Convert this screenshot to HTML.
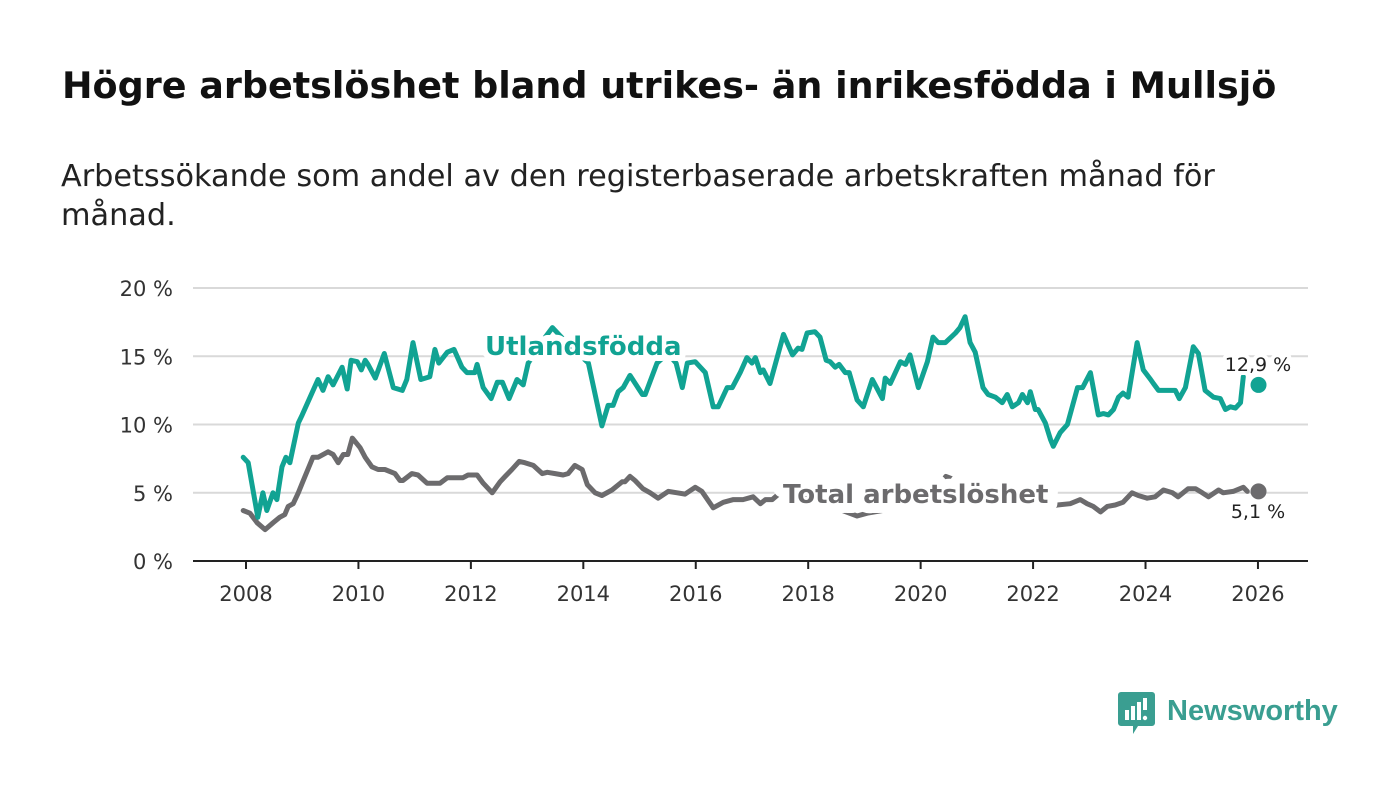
<!DOCTYPE html>
<html><head><meta charset="utf-8"><style>
body{margin:0;background:#fff;width:1400px;height:794px;overflow:hidden;font-family:"Liberation Sans",sans-serif;}
#title{position:absolute;left:62px;top:64px;font-family:"DejaVu Sans",sans-serif;font-size:36.5px;font-weight:bold;color:#111;margin:0;white-space:nowrap;}
#sub{position:absolute;left:61px;top:157px;font-family:"DejaVu Sans",sans-serif;font-size:30.3px;color:#222;line-height:39px;width:1200px;margin:0;}
svg{position:absolute;left:0;top:0;}
</style></head><body>
<h1 id="title">Högre arbetslöshet bland utrikes- än inrikesfödda i Mullsjö</h1>
<p id="sub">Arbetssökande som andel av den registerbaserade arbetskraften månad för månad.</p>
<svg id="chart" width="1400" height="794"></svg>
<script>
const yTicks=[0,5,10,15,20];
const xTicks=[2008,2010,2012,2014,2016,2018,2020,2022,2024,2026];
const foreignDates=[2007.95,2008.04,2008.21,2008.30,2008.37,2008.48,2008.55,2008.64,2008.71,2008.78,2008.93,2009.00,2009.14,2009.28,2009.37,2009.46,2009.55,2009.71,2009.80,2009.87,2009.98,2010.05,2010.12,2010.17,2010.30,2010.46,2010.62,2010.78,2010.86,2010.97,2011.11,2011.27,2011.36,2011.43,2011.58,2011.70,2011.84,2011.93,2012.07,2012.11,2012.22,2012.36,2012.47,2012.56,2012.68,2012.82,2012.93,2013.02,2013.25,2013.45,2013.7,2014.09,2014.33,2014.44,2014.53,2014.62,2014.71,2014.83,2015.05,2015.10,2015.31,2015.5,2015.65,2015.76,2015.85,2015.99,2016.17,2016.31,2016.40,2016.56,2016.65,2016.79,2016.91,2017.00,2017.06,2017.15,2017.20,2017.32,2017.56,2017.72,2017.82,2017.89,2017.98,2018.12,2018.21,2018.32,2018.39,2018.48,2018.55,2018.66,2018.73,2018.87,2018.98,2019.14,2019.32,2019.37,2019.46,2019.64,2019.73,2019.81,2019.96,2020.12,2020.22,2020.31,2020.44,2020.62,2020.70,2020.79,2020.88,2020.97,2021.11,2021.20,2021.33,2021.45,2021.54,2021.63,2021.74,2021.81,2021.90,2021.95,2022.04,2022.09,2022.22,2022.31,2022.36,2022.48,2022.61,2022.79,2022.88,2023.02,2023.16,2023.25,2023.34,2023.43,2023.52,2023.60,2023.69,2023.85,2023.96,2024.09,2024.14,2024.23,2024.32,2024.53,2024.60,2024.71,2024.85,2024.94,2025.06,2025.21,2025.33,2025.42,2025.51,2025.60,2025.69,2025.74,2026.01];
const foreignValues=[7.6,7.2,3.2,5.0,3.7,5.0,4.5,6.9,7.6,7.2,10.1,10.7,12.0,13.3,12.5,13.5,12.9,14.2,12.6,14.7,14.6,14.0,14.7,14.4,13.4,15.2,12.7,12.5,13.3,16.0,13.3,13.5,15.5,14.5,15.3,15.5,14.2,13.8,13.8,14.4,12.7,11.9,13.1,13.1,11.9,13.3,12.9,14.5,16.0,17.1,16.0,14.5,9.9,11.4,11.4,12.4,12.7,13.6,12.2,12.2,14.5,15.2,14.5,12.7,14.5,14.6,13.8,11.3,11.3,12.7,12.7,13.8,14.9,14.5,14.9,13.8,14.0,13.0,16.6,15.1,15.6,15.5,16.7,16.8,16.4,14.7,14.6,14.2,14.4,13.8,13.8,11.8,11.3,13.3,11.9,13.4,13.0,14.6,14.4,15.1,12.7,14.6,16.4,16.0,16.0,16.7,17.1,17.9,16.0,15.3,12.7,12.2,12.0,11.6,12.2,11.3,11.6,12.2,11.6,12.4,11.1,11.1,10.1,8.9,8.4,9.4,10.0,12.7,12.7,13.8,10.7,10.8,10.7,11.1,12.0,12.3,12.0,16.0,14.0,13.3,13.0,12.5,12.5,12.5,11.9,12.7,15.7,15.2,12.5,12.0,11.9,11.1,11.3,11.2,11.6,13.5,12.9];
const totalDates=[2007.95,2008.07,2008.20,2008.34,2008.48,2008.60,2008.69,2008.75,2008.84,2008.93,2009.00,2009.19,2009.28,2009.46,2009.55,2009.64,2009.73,2009.81,2009.89,2010.03,2010.12,2010.24,2010.35,2010.47,2010.65,2010.74,2010.79,2010.95,2011.06,2011.22,2011.33,2011.45,2011.58,2011.75,2011.86,2011.95,2012.11,2012.22,2012.38,2012.52,2012.61,2012.73,2012.86,2012.96,2013.11,2013.27,2013.36,2013.50,2013.64,2013.73,2013.85,2013.98,2014.07,2014.21,2014.33,2014.51,2014.69,2014.74,2014.83,2014.92,2015.06,2015.19,2015.33,2015.51,2015.67,2015.81,2015.99,2016.11,2016.31,2016.49,2016.67,2016.84,2017.02,2017.15,2017.24,2017.36,2017.50,2017.8,2018.1,2018.3,2018.48,2018.87,2019.05,2019.32,2019.6,2019.9,2020.2,2020.45,2020.7,2021.0,2021.4,2021.8,2022.2,2022.27,2022.43,2022.66,2022.84,2022.96,2023.07,2023.20,2023.32,2023.46,2023.60,2023.76,2023.87,2024.03,2024.17,2024.32,2024.48,2024.58,2024.76,2024.89,2025.01,2025.12,2025.30,2025.38,2025.56,2025.74,2025.81,2026.01];
const totalValues=[3.7,3.5,2.8,2.3,2.8,3.2,3.4,4.0,4.2,5.0,5.7,7.6,7.6,8.0,7.8,7.2,7.8,7.8,9.0,8.3,7.6,6.9,6.7,6.7,6.4,5.9,5.9,6.4,6.3,5.7,5.7,5.7,6.1,6.1,6.1,6.3,6.3,5.7,5.0,5.8,6.2,6.7,7.3,7.2,7.0,6.4,6.5,6.4,6.3,6.4,7.0,6.7,5.6,5.0,4.8,5.2,5.8,5.8,6.2,5.9,5.3,5.0,4.6,5.1,5.0,4.9,5.4,5.1,3.9,4.3,4.5,4.5,4.7,4.2,4.5,4.5,5.0,5.0,4.8,4.4,3.9,3.3,3.5,3.7,4.0,4.2,4.8,6.2,5.8,5.3,4.8,4.4,4.0,3.9,4.1,4.2,4.5,4.2,4.0,3.6,4.0,4.1,4.3,5.0,4.8,4.6,4.7,5.2,5.0,4.7,5.3,5.3,5.0,4.7,5.2,5.0,5.1,5.4,5.1,5.1];

const NS='http://www.w3.org/2000/svg';
const svg=document.getElementById('chart');
const X=yr=>246+(yr-2008)*56.22;
const Y=v=>561-v*13.65;
function mk(tag,attrs,parent){const e=document.createElementNS(NS,tag);for(const k in attrs)e.setAttribute(k,attrs[k]);(parent||svg).appendChild(e);return e;}

yTicks.forEach(t=>{
  const g=mk('line',{x1:193,x2:1308,y1:Y(t),y2:Y(t),stroke:t===0?'#222':'#d9d9d9','stroke-width':2});
  
  
  const l=mk('text',{x:173,y:Y(t)+8,'text-anchor':'end','font-size':21,'font-family':'DejaVu Sans, sans-serif',fill:'#333'});
  l.textContent=t+' %';
  
  
});
xTicks.forEach(t=>{
  const k=mk('line',{x1:X(t),x2:X(t),y1:561,y2:569,stroke:'#222','stroke-width':2});
  
  
  const l=mk('text',{x:X(t),y:601,'text-anchor':'middle','font-size':21,'font-family':'DejaVu Sans, sans-serif',fill:'#333'});
  l.textContent=t;
  
  
});
function series(dates,vals,color,name){
  const n=dates.length;
  let d='';
  for(let i=0;i<n-1;i++)d+=(i?'L':'M')+X(dates[i]).toFixed(1)+' '+Y(vals[i]).toFixed(1);
  const p=mk('path',{d:d,fill:'none',stroke:color,'stroke-width':5,'stroke-linejoin':'round','stroke-linecap':'round'});
  
  
  const c=mk('circle',{cx:X(dates[n-1]),cy:Y(vals[n-1]),r:8,fill:color});
  
  
}
series(totalDates,totalValues,'#6c6b6d','total');
series(foreignDates,foreignValues,'#11a393','foreign-born');
function label(txt,x,y,size,color,weight,anchor,name,sw){
  const t=mk('text',{x:x,y:y,'font-size':size,'font-family':'DejaVu Sans, sans-serif',fill:color,'font-weight':weight,'text-anchor':anchor,stroke:'#fff','stroke-width':sw||8,'paint-order':'stroke','stroke-linejoin':'round'});
  t.textContent=txt;
  
  
}
label('Utlandsfödda',485,355,26,'#11a393','bold','start','foreign-born-label',12);
label('Total arbetslöshet',783,503,26,'#6c6b6d','bold','start','total-label',20);
label(String(foreignValues[foreignValues.length-1]).replace('.',',')+' %',1258,371,19,'#222','normal','middle','foreign-born-value-label');
label(String(totalValues[totalValues.length-1]).replace('.',',')+' %',1258,518,19,'#222','normal','middle','total-value-label');
const lg=mk('g',{});


mk('path',{d:'M1121 692h31a3 3 0 0 1 3 3v28a3 3 0 0 1-3 3h-14l-5 8v-8h-12a3 3 0 0 1-3-3v-28a3 3 0 0 1 3-3z',fill:'#3a9e91'},lg);
[[1125,710,4,10],[1131,706,4,14],[1137,702,4,18],[1143,698,4,12]].forEach(r=>mk('rect',{x:r[0],y:r[1],width:r[2],height:r[3],fill:'#fff'},lg));
mk('circle',{cx:1145,cy:718,r:2.2,fill:'#fff'},lg);
const lt=mk('text',{x:1167,y:720,'font-size':29,fill:'#3a9e91','font-weight':'bold'},lg);
lt.textContent='Newsworthy';
</script>
</body></html>
